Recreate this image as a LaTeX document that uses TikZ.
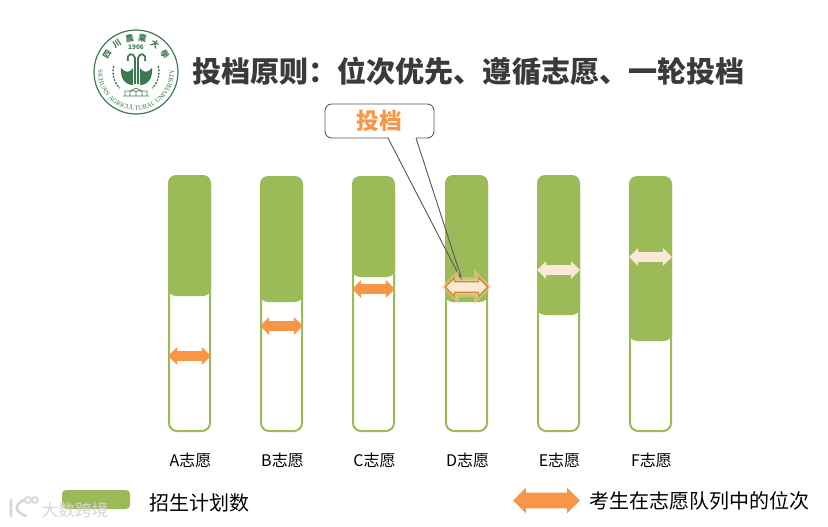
\documentclass[tikz,border=0pt]{standalone}
\usepackage{fontspec}
\setmainfont{Noto Sans CJK SC}
\newfontfamily\logoserif{Liberation Serif}
\usetikzlibrary{calc,shapes.arrows,decorations.text}
\definecolor{barGreen}{HTML}{9BBB59}
\definecolor{rankOrange}{HTML}{F79646}
\definecolor{rankCream}{HTML}{FBE9D7}
\definecolor{titleGray}{HTML}{3A3A3A}
\definecolor{logoGreen}{HTML}{3B7A50}
\tikzset{
  rankarrow/.style={shape=double arrow, inner sep=3.5pt, minimum width=13pt,
    minimum height=32pt, double arrow head extend=3pt, fill=#1},
  rankarrow/.default=rankOrange,
  barlabel/.style={font=\fontsize{12}{14}\selectfont, text=black},
  legendlabel/.style={font=\fontsize{15}{18}\selectfont, text=black, anchor=west},
  logotext/.style={font=\fontsize{6.2}{7}\selectfont\bfseries, text=logoGreen}
}
\begin{document}
\begin{tikzpicture}[x=0.75pt,y=-0.75pt]
  \useasboundingbox (0,0) rectangle (828,526);
  % Logo
  \draw[logoGreen, line width=0.9pt] (136,72) circle[radius=42];
  \foreach \a/\t in {148/四,124/川,101/農,79/業,56/大,32/學} {
    \node[logotext, rotate=\a-90] (logo\a) at ($(136,72)+(\a:34 and -34)$) {\t};
  }
  \path[decorate, decoration={text along path, text align=center,
      text={|\logoserif\fontsize{5}{5}\selectfont\color{logoGreen}|SICHUAN AGRICULTURAL UNIVERSITY}}]
    (99.3,62.2) arc[start angle=165, end angle=375, x radius=38, y radius=-38];
  \node[logotext, font=\fontsize{4.8}{5}\selectfont\bfseries] (logoyear) at (136,47) {1906};
  \draw[logoGreen, line width=1.3pt] (128,61) .. controls (126,53) and (134,52) .. (135,58) -- (135,84)
    (145,61) .. controls (147,53) and (139,52) .. (138,58) -- (138,84);
  \fill[logoGreen] (121,68) .. controls (120,78) and (125,85) .. (133,85) -- (133,68) .. controls (130,73) and (125,73) .. cycle;
  \fill[logoGreen] (152,68) .. controls (153,78) and (148,85) .. (140,85) -- (140,68) .. controls (143,73) and (148,73) .. cycle;
  \draw[logoGreen, line width=0.5pt] (123,96) -- (149,96) (125,96) -- (125,91) -- (147,91) -- (147,96)
    (130,91) -- (136,88) -- (142,91) (130,91) -- (130,96) (136,91) -- (136,96) (142,91) -- (142,96);
  \draw[logoGreen, line width=1pt, dash pattern=on 1.5pt off 1pt] (113.8,66) arc[start angle=165, end angle=225, x radius=23, y radius=-23];
  \draw[logoGreen, line width=1pt, dash pattern=on 1.5pt off 1pt] (158.2,66) arc[start angle=15, end angle=-45, x radius=23, y radius=-23];
  % Title
  \node[anchor=west, inner sep=0pt, font=\fontsize{21.8}{26}\selectfont\bfseries, text=titleGray] (title) at (192,71)
    {投档原则：位次优先、遵循志愿、一轮投档};
  % Bars: x, top, bottom of the green part, name
  \foreach \x/\t/\b/\n in {168/175/296/A,260/176/302/B,352/176/277/C,445/175/302/D,537/175/315/E,629/176/341/F} {
    \draw[barGreen, line width=1.5pt, fill=white, rounded corners=6pt] (\x+1,\t+5) rectangle (\x+42,431);
    \fill[barGreen, rounded corners=6pt] (\x,\t) rectangle (\x+43,\b);
    \node[barlabel] (label\n) at (\x+22.5,460) {\n 志愿};
  }
  % Callout
  \node[font=\fontsize{17}{20}\selectfont\bfseries, text=rankOrange] (calltext) at (379,121) {投档};
  \coordinate (calltip) at (463,283);
  \draw[black!65, line width=0.7pt, rounded corners=5pt] (388,138) -- (325,138) -- (325,104) -- (434,104) -- (434,138) -- (416,138);
  \draw[black!65, line width=0.7pt] (388,138) -- (calltip) -- (416,138);
  % Rank arrows
  \node[rankarrow] (rankA) at (189.5,356) {};
  \node[rankarrow] (rankB) at (281.5,326) {};
  \node[rankarrow] (rankC) at (373.5,289) {};
  \node[rankarrow=rankCream, draw=rankCream!70!orange, opacity=0.5, line width=4pt] (rankDglow) at (466.5,287) {};
  \node[rankarrow=rankCream, draw=rankOrange!65!olive, line width=1pt] (rankD) at (466.5,287) {};
  \node[rankarrow=rankCream] (rankE) at (558.5,270) {};
  \node[rankarrow=rankCream] (rankF) at (650.5,257) {};
  % Legend
  \fill[barGreen, rounded corners=3pt] (62,490) rectangle (130,509);
  \node[legendlabel, inner sep=0pt] (legendbar) at (149,503) {招生计划数};
  \node[rankarrow, inner sep=4.6pt, minimum width=19pt, minimum height=50pt, double arrow head extend=3pt] (legendrank) at (546.5,500.5) {};
  \node[legendlabel, inner sep=0pt] (legendtext) at (589,501) {考生在志愿队列中的位次};
  % Watermark
  \draw[white!68!gray, line width=2pt, line cap=round] (11,500) -- (11,516) (24,500) .. controls (14,504) and (14,512) .. (26,516);
  \draw[white!68!gray, line width=1.3pt] (28,500) circle[radius=3] (35,500) circle[radius=3];
  \node[font=\fontsize{12.5}{15}\selectfont, text=white!68!gray] (watermark) at (75,510.5) {大数跨境};
\end{tikzpicture}
\end{document}
